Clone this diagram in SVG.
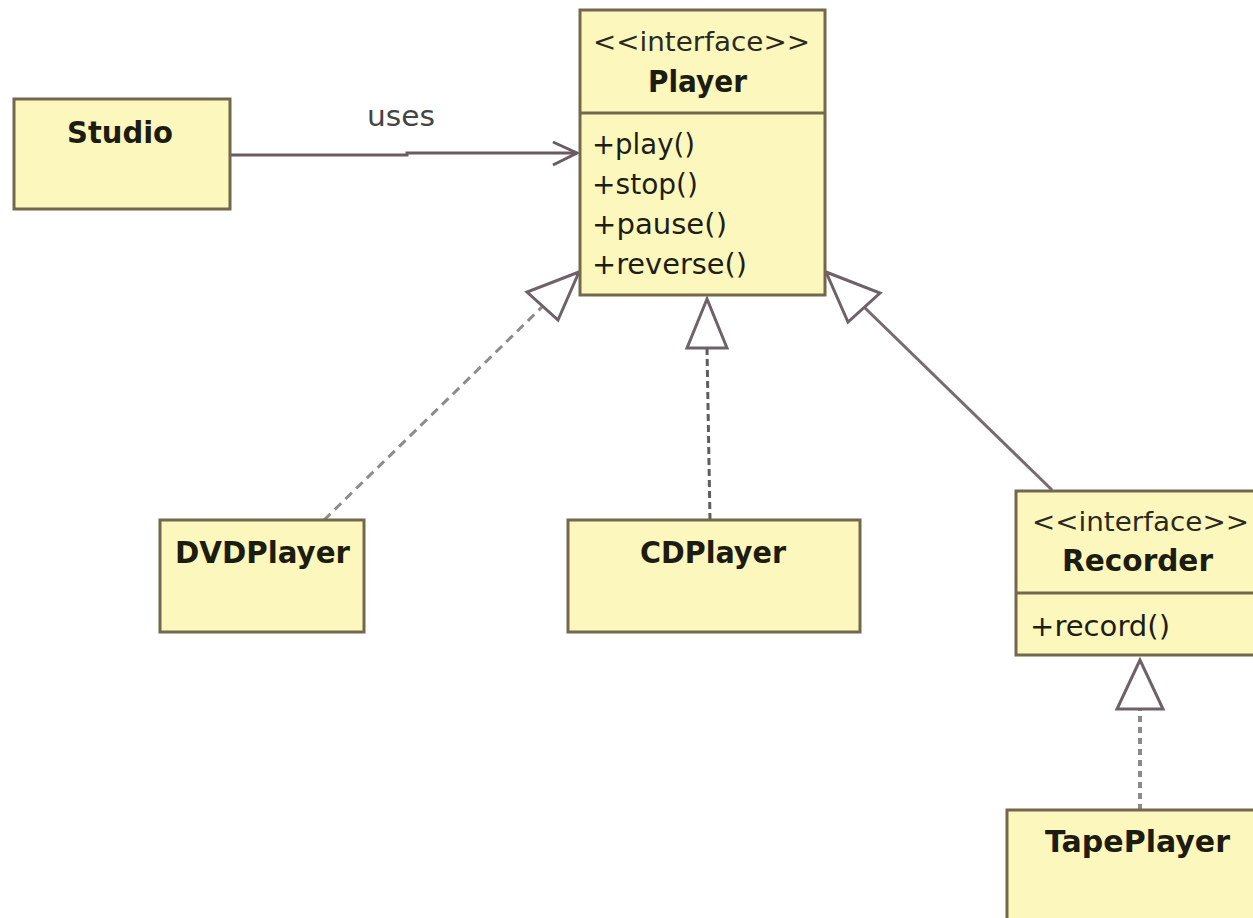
<svg xmlns="http://www.w3.org/2000/svg" width="1253" height="918" viewBox="0 0 1253 918">
  <style>
    .box { fill: #fcf7bd; stroke: #74684c; stroke-width: 3; }
    .sep { stroke: #74684c; stroke-width: 3; }
    .name { font-family: "DejaVu Sans", Verdana, sans-serif; font-weight: bold; font-size: 30px; fill: #1c1c10; }
    .stereo { font-family: "DejaVu Sans", Verdana, sans-serif; font-size: 26px; fill: #2a2a20; }
    .op { font-family: "DejaVu Sans", Verdana, sans-serif; font-size: 28px; fill: #1e1e14; }
    .label { font-family: "DejaVu Sans", Verdana, sans-serif; font-size: 28px; fill: #444; }
    .assoc { stroke: #6a5a62; stroke-width: 3; fill: none; }
    .gen { stroke: #786a70; stroke-width: 3; fill: none; }
    .head { stroke: #6e6268; stroke-width: 3; fill: #ffffff; stroke-linejoin: miter; }
    .real-a { stroke: #8c8c8c; stroke-width: 3; fill: none; stroke-dasharray: 9 6; }
    .real-b { stroke: #5e5e62; stroke-width: 3; fill: none; stroke-dasharray: 7 4; }
    .real-c { stroke: #8a8a8a; stroke-width: 4; fill: none; stroke-dasharray: 6 5; }
  </style>

  <!-- connectors -->
  <g id="connectors">
    <!-- Studio uses Player -->
    <path class="assoc" d="M230 155 L407 155 L407 153 L577 153"/>
    <path class="assoc" d="M553 142 L577 153 L553 165"/>
    <text class="label" x="367" y="126" textLength="68" lengthAdjust="spacingAndGlyphs">uses</text>

    <!-- DVDPlayer realizes Player -->
    <line class="real-a" x1="324" y1="520" x2="543" y2="306"/>
    <polygon class="head" points="579,272 527,292 558,320"/>

    <!-- CDPlayer realizes Player -->
    <line class="real-b" x1="710" y1="520" x2="707" y2="348"/>
    <polygon class="head" points="707,299 687,348 727,348"/>

    <!-- Recorder extends Player -->
    <line class="gen" x1="1052" y1="490" x2="864" y2="307"/>
    <polygon class="head" points="826,272 880,293 848,322"/>

    <!-- TapePlayer realizes Recorder -->
    <line class="real-c" x1="1140" y1="810" x2="1140" y2="709"/>
    <polygon class="head" points="1140,660 1117,709 1163,709"/>
  </g>

  <g id="studio">
    <rect class="box" x="14" y="99" width="216" height="110"/>
    <text class="name" x="67" y="143" textLength="106" lengthAdjust="spacingAndGlyphs">Studio</text>
  </g>

  <g id="player">
    <rect class="box" x="580" y="10" width="245" height="285"/>
    <line class="sep" x1="580" y1="113" x2="825" y2="113"/>
    <text class="stereo" x="593" y="51" textLength="217" lengthAdjust="spacingAndGlyphs">&lt;&lt;interface&gt;&gt;</text>
    <text class="name" x="648" y="92" textLength="99" lengthAdjust="spacingAndGlyphs">Player</text>
    <text class="op" x="592" y="154" textLength="103" lengthAdjust="spacingAndGlyphs">+play()</text>
    <text class="op" x="592" y="194" textLength="106" lengthAdjust="spacingAndGlyphs">+stop()</text>
    <text class="op" x="592" y="234" textLength="135" lengthAdjust="spacingAndGlyphs">+pause()</text>
    <text class="op" x="592" y="274" textLength="155" lengthAdjust="spacingAndGlyphs">+reverse()</text>
  </g>

  <g id="dvdplayer">
    <rect class="box" x="160" y="520" width="204" height="112"/>
    <text class="name" x="175" y="563" textLength="175" lengthAdjust="spacingAndGlyphs">DVDPlayer</text>
  </g>

  <g id="cdplayer">
    <rect class="box" x="568" y="520" width="292" height="112"/>
    <text class="name" x="640" y="563" textLength="146" lengthAdjust="spacingAndGlyphs">CDPlayer</text>
  </g>

  <g id="recorder">
    <rect class="box" x="1016" y="491" width="250" height="164"/>
    <line class="sep" x1="1016" y1="593" x2="1266" y2="593"/>
    <text class="stereo" x="1032" y="531" textLength="217" lengthAdjust="spacingAndGlyphs">&lt;&lt;interface&gt;&gt;</text>
    <text class="name" x="1062" y="571" textLength="151" lengthAdjust="spacingAndGlyphs">Recorder</text>
    <text class="op" x="1030" y="636" textLength="140" lengthAdjust="spacingAndGlyphs">+record()</text>
  </g>

  <g id="tapeplayer">
    <rect class="box" x="1007" y="810" width="260" height="120"/>
    <text class="name" x="1045" y="852" textLength="185" lengthAdjust="spacingAndGlyphs">TapePlayer</text>
  </g>
</svg>
